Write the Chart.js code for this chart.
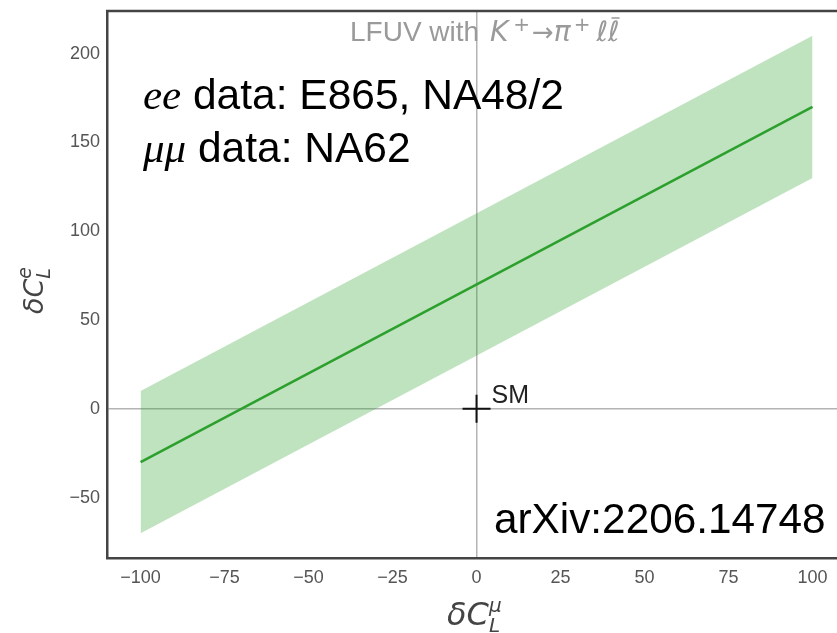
<!DOCTYPE html>
<html>
<head>
<meta charset="utf-8">
<script src="https://cdn.jsdelivr.net/npm/chart.js@4.4.1/dist/chart.umd.min.js"></script>
<style>
  html, body { margin: 0; padding: 0; background: #fff; overflow: hidden; }
  #wrap { width: 837px; height: 633px; }
</style>
</head>
<body>
<div id="wrap"><canvas id="lfuvChart" width="837" height="633"></canvas></div>
<script>
// values
const xEnds = [-100, 100];
const centralFit = [-30, 170];
const bandUpper = [10, 210];
const bandLower = [-70, 130];
const smX = [0];
const smY = [0];
const xTicks = [-100, -75, -50, -25, 0, 25, 50, 75, 100];
const yTicks = [-50, 0, 50, 100, 150, 200];

const toPoints = (xs, ys) => xs.map((x, i) => ({ x: x, y: ys[i] }));
const fmt = v => (v < 0 ? "\u2212" + Math.abs(v) : String(v));

const green = "rgb(44,160,44)";
const bandFill = "rgba(44,160,44,0.3)";
const frameColor = "#444";
const zeroLine = "#b4b4b4";

// draws a run of text pieces (for the little bits of math)
function drawRun(ctx, x, y, parts) {
  let cx = x;
  parts.forEach(p => {
    ctx.font = p.f;
    ctx.fillText(p.t, cx + (p.dx || 0), y + (p.dy || 0));
    const w = ctx.measureText(p.t).width;
    if (p.bar) {
      ctx.save();
      ctx.strokeStyle = ctx.fillStyle;
      ctx.lineWidth = 1.5;
      ctx.beginPath();
      ctx.moveTo(cx + w * 0.3, y + p.bar);
      ctx.lineTo(cx + w * 1.0, y + p.bar);
      ctx.stroke();
      ctx.restore();
    }
    if (!p.noAdvance) cx += w + (p.dx || 0);
  });
  return cx;
}

const extras = {
  id: "extras",
  afterDraw(chart) {
    const ctx = chart.ctx;
    const a = chart.chartArea;
    const xs = chart.scales.x;
    const ys = chart.scales.y;
    ctx.save();

    // top spine
    ctx.strokeStyle = frameColor;
    ctx.lineWidth = 2.5;
    ctx.beginPath();
    ctx.moveTo(a.left - 1, a.top);
    ctx.lineTo(a.right, a.top);
    ctx.stroke();

    ctx.textBaseline = "alphabetic";
    ctx.textAlign = "left";

    // title (sits inside the frame in the picture)
    ctx.fillStyle = "#9a9a9a";
    const m = '"DejaVu Sans"';
    drawRun(ctx, 350, 41, [
      { t: "LFUV with ", f: '28px "Liberation Sans"' },
      { t: "K", f: "oblique 28px " + m, dx: 3 },
      { t: "+", f: "20px " + m, dy: -10, dx: 5 },
      { t: "\u2192", f: "26px " + m, dx: 2 },
      { t: "\u03c0", f: "oblique 28px " + m },
      { t: "+", f: "20px " + m, dy: -10, dx: 3 },
      { t: "\u2113", f: "oblique 28px " + m, dx: 6 },
      { t: "\u2113", f: "oblique 28px " + m, bar: -23 }
    ]);

    // annotations
    ctx.fillStyle = "#000";
    drawRun(ctx, 143, 109, [
      { t: "ee", f: 'italic 43px "Liberation Serif"' },
      { t: " data: E865, NA48/2", f: '42.5px "Liberation Sans"' }
    ]);
    drawRun(ctx, 143, 162, [
      { t: "\u03bc\u03bc", f: 'italic 43px "Liberation Serif"' },
      { t: " data: NA62", f: '42.5px "Liberation Sans"' }
    ]);
    ctx.font = '42.3px "Liberation Sans"';
    ctx.fillText("arXiv:2206.14748", 494, 533);

    // SM label next to the cross
    ctx.fillStyle = "#222";
    ctx.font = '25px "Liberation Sans"';
    ctx.fillText("SM", xs.getPixelForValue(smX[0]) + 15, ys.getPixelForValue(smY[0]) - 6);

    // x axis title
    ctx.fillStyle = "#444";
    drawRun(ctx, 447, 625, [
      { t: "\u03b4C", f: "oblique 32px " + m },
      { t: "\u03bc", f: "oblique 20px " + m, dy: -13, noAdvance: true },
      { t: "L", f: "oblique 20px " + m, dy: 7 }
    ]);

    // y axis title, rotated
    ctx.save();
    ctx.translate(43, 314);
    ctx.rotate(-Math.PI / 2);
    drawRun(ctx, 0, 0, [
      { t: "\u03b4C", f: "oblique 27px " + m },
      { t: "e", f: "oblique 19px " + m, dy: -12, noAdvance: true },
      { t: "L", f: "oblique 19px " + m, dy: 7 }
    ]);
    ctx.restore();

    ctx.restore();
  }
};

const ctxL = document.getElementById("lfuvChart").getContext("2d");
const lfuvChart = new Chart(ctxL, {
  type: "line",
  data: {
    datasets: [
      {
        label: "band upper",
        data: toPoints(xEnds, bandUpper),
        borderWidth: 0,
        borderColor: "rgba(0,0,0,0)",
        pointRadius: 0,
        backgroundColor: bandFill,
        fill: "+1",
        order: 3
      },
      {
        label: "band lower",
        data: toPoints(xEnds, bandLower),
        borderWidth: 0,
        borderColor: "rgba(0,0,0,0)",
        pointRadius: 0,
        fill: false,
        order: 3
      },
      {
        label: "central",
        data: toPoints(xEnds, centralFit),
        borderColor: green,
        borderWidth: 2.5,
        pointRadius: 0,
        fill: false,
        order: 2
      },
      {
        label: "SM",
        data: toPoints(smX, smY),
        showLine: false,
        pointStyle: "cross",
        pointRadius: 14,
        pointBorderWidth: 2,
        pointBorderColor: "#111",
        order: 1
      }
    ]
  },
  options: {
    responsive: false,
    animation: false,
    layout: { autoPadding: false, padding: { top: 11, left: 0, right: 0, bottom: 0 } },
    plugins: {
      legend: { display: false },
      tooltip: { enabled: false }
    },
    scales: {
      x: {
        type: "linear",
        min: -110,
        max: 107.3,
        afterFit: s => { s.height = 75; s.paddingLeft = 0; s.paddingRight = 0; },
        afterBuildTicks: s => { s.ticks = xTicks.map(v => ({ value: v })); },
        grid: {
          drawTicks: false,
          color: c => (c.tick && c.tick.value === 0 ? zeroLine : "rgba(0,0,0,0)"),
          lineWidth: 1.5
        },
        border: { color: frameColor, width: 2.5 },
        ticks: {
          padding: 9,
          color: "#555",
          font: { family: "Liberation Sans", size: 18 },
          maxRotation: 0,
          callback: v => fmt(v)
        }
      },
      y: {
        min: -84,
        max: 224,
        afterFit: s => { s.width = 107; s.paddingTop = 0; s.paddingBottom = 0; },
        afterBuildTicks: s => { s.ticks = yTicks.map(v => ({ value: v })); },
        grid: {
          drawTicks: false,
          color: c => (c.tick && c.tick.value === 0 ? zeroLine : "rgba(0,0,0,0)"),
          lineWidth: 1.5
        },
        border: { color: frameColor, width: 2.5 },
        ticks: {
          padding: 7,
          color: "#555",
          font: { family: "Liberation Sans", size: 18 },
          callback: v => fmt(v)
        }
      }
    }
  },
  plugins: [extras]
});
</script>
</body>
</html>
